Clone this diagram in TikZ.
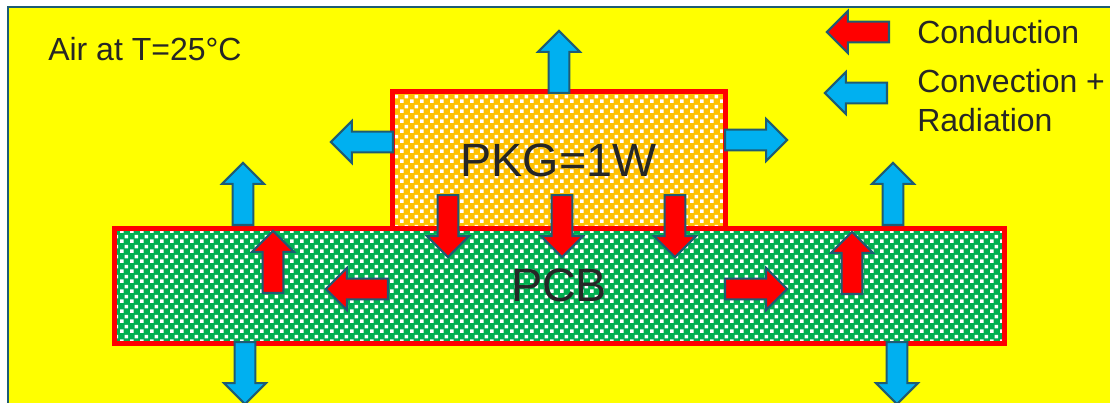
\documentclass[tikz,border=0pt]{standalone}
\usepackage{fontspec}
\setmainfont{Liberation Sans}
\usepackage{xcolor}
\usepackage{tikz}
\usetikzlibrary{shapes.arrows,patterns}

\definecolor{airyellow}{HTML}{FFFF00}
\definecolor{pkgorange}{HTML}{FFC000}
\definecolor{pcbgreen}{HTML}{00B050}
\definecolor{condred}{HTML}{FF0000}
\definecolor{convblue}{HTML}{00B0F0}
\definecolor{edgeteal}{HTML}{1F5C73}
\definecolor{inkgray}{HTML}{262626}

% small white checks laid over the board fills
\pgfdeclarepatternformonly{boardchecks}{\pgfqpoint{0pt}{0pt}}{\pgfqpoint{7.5pt}{7.5pt}}{\pgfqpoint{7.5pt}{7.5pt}}{%
  \pgfpathrectangle{\pgfqpoint{0pt}{0pt}}{\pgfqpoint{3pt}{3pt}}%
  \pgfpathrectangle{\pgfqpoint{3.75pt}{3.75pt}}{\pgfqpoint{3pt}{3pt}}%
  \pgfusepath{fill}}

\begin{document}
\begin{tikzpicture}[x=0.75pt, y=-0.75pt,
  board/.style={draw=condred, line width=3.75pt, pattern=boardchecks, pattern color=white,
    text=inkgray, font=\fontsize{35}{40}\selectfont, inner sep=0pt},
  heat/.style={single arrow, draw=edgeteal, line width=1.6pt, inner xsep=0pt, inner ysep=7pt,
    minimum height=46.5pt, single arrow head extend=7.875pt, single arrow tip angle=90, anchor=tail},
  cond/.style={heat, fill=condred},
  conv/.style={heat, fill=convblue},
  lbl/.style={text=inkgray, font=\fontsize{24}{28}\selectfont, inner sep=0pt, anchor=base west}]
  \useasboundingbox (0,0) rectangle (1110,403);
  \fill[airyellow] (8,7) rectangle (1110,403);
  \draw[edgeteal, line width=1.5pt] (8,403) -- (8,7) -- (1110,7);

  % package and board
  \node[board, preaction={fill=pkgorange}, minimum width=333*0.75pt, minimum height=136*0.75pt]
    (pkg) at (558.5,160) {PKG=1W};
  \node[board, preaction={fill=pcbgreen}, minimum width=890*0.75pt, minimum height=115*0.75pt]
    (pcb) at (559,285.5) {PCB};

  % convection + radiation
  \node[conv, rotate=90]  (pkgup)    at (559,94)  {};
  \node[conv, rotate=180] (pkgleft)  at (394,142) {};
  \node[conv]             (pkgright) at (724,140) {};
  \node[conv, rotate=90]  (pcbupl)   at (243,226) {};
  \node[conv, rotate=90]  (pcbupr)   at (893,226) {};
  \node[conv, rotate=-90] (pcbdownl) at (245,341) {};
  \node[conv, rotate=-90] (pcbdownr) at (897,341) {};

  % conduction
  \node[cond, rotate=-90] (pkgdowna) at (448,194) {};
  \node[cond, rotate=-90] (pkgdownb) at (562,194) {};
  \node[cond, rotate=-90] (pkgdownc) at (675,194) {};
  \node[cond, rotate=90]  (pcbcondl) at (273,294) {};
  \node[cond, rotate=90]  (pcbcondr) at (852,295) {};
  \node[cond, rotate=180] (pcbleft)  at (389,289) {};
  \node[cond]             (pcbright) at (724,289) {};

  % legend
  \node[cond, rotate=180] (keycond) at (890,32) {};
  \node[conv, rotate=180] (keyconv) at (888,93) {};
  \node[lbl] (condtxt) at (917,44)  {Conduction};
  \node[lbl] (convtxt) at (917,93)  {Convection +};
  \node[lbl] (radtxt)  at (917,132) {Radiation};
  \node[lbl] (airtxt)  at (48,61)   {Air at T=25°C};
\end{tikzpicture}
\end{document}
